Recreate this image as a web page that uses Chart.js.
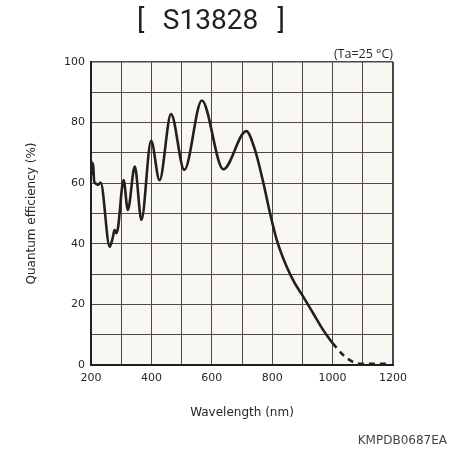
<!DOCTYPE html>
<html>
<head>
<meta charset="utf-8">
<script src="https://cdn.jsdelivr.net/npm/chart.js@4"></script>
<style>
  html, body { margin: 0; padding: 0; background: #fff; }
  #wrap { width: 474px; height: 454px; }
</style>
</head>
<body>
<div id="wrap"><canvas id="qe" width="474" height="454"></canvas></div>
<script>
// measured curve (solid part)
const wavelength = [200, 203, 205, 207, 210, 214, 223, 232, 262, 272, 278, 284, 289, 308, 322, 345, 367,
  399, 427, 465, 509, 567, 638, 714, 743, 771, 793, 815, 848, 875, 900, 936, 969, 1000];
const efficiency = [66, 67, 63, 66.5, 61, 60, 59.5, 60.2, 39, 42, 44.5, 43.5, 45, 61, 51.2, 65.5, 47.9,
  74, 61, 82.8, 64.4, 87.3, 64.6, 77.2, 71, 60, 50, 41.3, 32.4, 26.9, 23, 17, 11.5, 7.2];
// extrapolated tail (dashed)
const tailWavelength = [1000, 1036, 1064, 1080, 1100, 1180];
const tailEfficiency = [7.2, 3.2, 1.2, 0.6, 0.4, 0.4];

const xTickLabels = [200, 400, 600, 800, 1000, 1200];
const yTickLabels = [0, 20, 40, 60, 80, 100];

const ink = '#231f20';
const gridCol = '#4d4847';

const toPoints = (xs, ys) => xs.map((x, i) => ({ x: x, y: ys[i] }));

const extras = {
  id: 'extras',
  beforeDraw(chart) {
    const { ctx, chartArea: a } = chart;
    ctx.save();
    ctx.fillStyle = '#f8f7f1';
    ctx.fillRect(a.left, a.top, a.right - a.left, a.bottom - a.top);
    ctx.restore();
  },
  afterDraw(chart) {
    const { ctx, chartArea: a } = chart;
    ctx.save();
    ctx.fillStyle = ink;
    ctx.textBaseline = 'middle';
    ctx.font = '28px Roboto, "Liberation Sans", sans-serif';
    ctx.textAlign = 'left';
    ctx.fillText('[', 137, 22);
    ctx.textAlign = 'center';
    ctx.fillText('S13828', 210.5, 22);
    ctx.textAlign = 'right';
    ctx.fillText(']', 285, 22);
    ctx.font = '12.5px "Open Sans", "DejaVu Sans", sans-serif';
    ctx.fillText('(Ta=25 °C)', a.right, 54);
    ctx.fillStyle = '#444';
    ctx.font = '12px "DejaVu Sans", sans-serif';
    ctx.fillText('KMPDB0687EA', 447, 441);
    ctx.restore();
  }
};

new Chart(document.getElementById('qe'), {
  type: 'line',
  data: {
    datasets: [
      {
        data: toPoints(wavelength, efficiency),
        borderColor: ink,
        borderWidth: 2.6,
        pointRadius: 0,
        cubicInterpolationMode: 'monotone',
        fill: false
      },
      {
        data: toPoints(tailWavelength, tailEfficiency),
        borderColor: ink,
        borderWidth: 2.6,
        borderDash: [6, 5],
        pointRadius: 0,
        cubicInterpolationMode: 'monotone',
        fill: false
      }
    ]
  },
  options: {
    responsive: false,
    animation: false,
    layout: { padding: { top: 62, right: 81, left: 0, bottom: 0 } },
    plugins: { legend: { display: false }, tooltip: { enabled: false } },
    scales: {
      x: {
        type: 'linear',
        min: 200,
        max: 1200,
        afterFit: (s) => { s.height = 89; },
        border: { display: true, color: ink, width: 2 },
        grid: {
          color: gridCol,
          lineWidth: (c) => (c.tick && c.tick.value === 1200 ? 2 : 1),
          drawTicks: false
        },
        ticks: {
          stepSize: 100,
          padding: 7,
          maxRotation: 0,
          minRotation: 0,
          autoSkip: false,
          color: '#2a2627',
          font: { family: '"DejaVu Sans", sans-serif', size: 11 },
          callback: (v) => (xTickLabels.includes(v) ? String(v) : '')
        },
        title: {
          display: true,
          text: 'Wavelength (nm)',
          color: '#2a2627',
          font: { family: '"DejaVu Sans", sans-serif', size: 12 },
          padding: { top: 0, bottom: 34 }
        }
      },
      y: {
        min: 0,
        max: 100,
        afterFit: (s) => { s.width = 91; },
        border: { display: true, color: ink, width: 2 },
        grid: {
          color: gridCol,
          lineWidth: (c) => (c.tick && c.tick.value === 100 ? 1.5 : 1),
          drawTicks: false
        },
        ticks: {
          stepSize: 10,
          padding: 6,
          autoSkip: false,
          color: '#2a2627',
          font: { family: '"DejaVu Sans", sans-serif', size: 11 },
          callback: (v) => (yTickLabels.includes(v) ? String(v) : '')
        },
        title: {
          display: true,
          text: 'Quantum efficiency (%)',
          color: '#2a2627',
          font: { family: '"DejaVu Sans", sans-serif', size: 12 },
          padding: { top: 25, bottom: 0 }
        }
      }
    }
  },
  plugins: [extras]
});
</script>
</body>
</html>
